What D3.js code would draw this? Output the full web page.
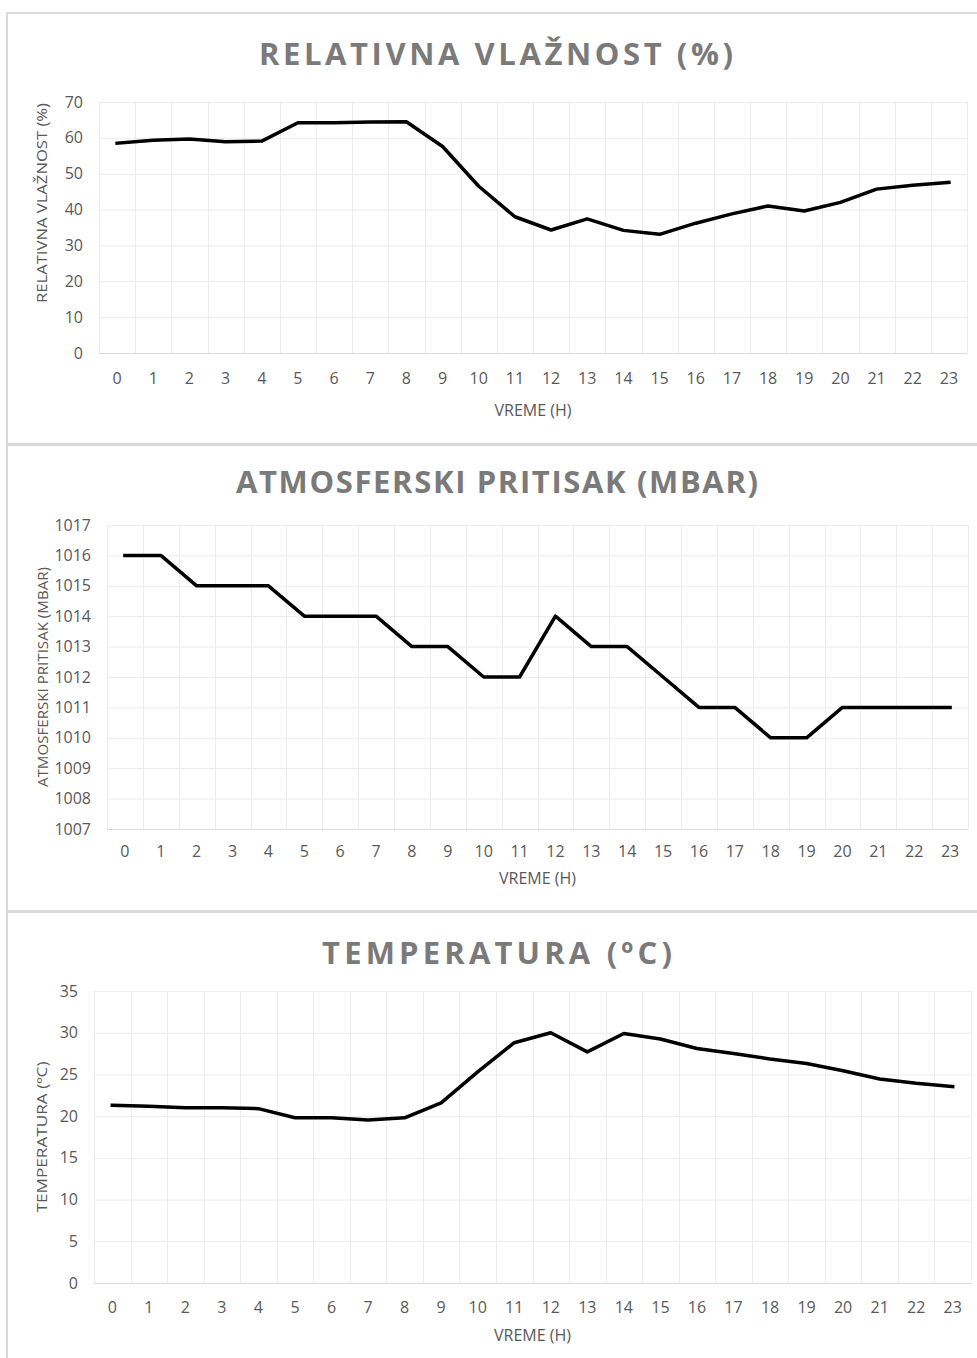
<!DOCTYPE html>
<html>
<head>
<meta charset="utf-8">
<script src="https://cdn.jsdelivr.net/npm/d3@7"></script>
<style>
  html, body { margin: 0; padding: 0; background: #fff; }
  svg { display: block; }
  text { font-family: "Open Sans", "Noto Sans", sans-serif; }
</style>
</head>
<body>
<svg id="chart" width="977" height="1358"></svg>
<script>
// Hours of the day (x categories, shared by all three panels)
const hours = d3.range(0, 24).map(String);

// Relative humidity (%)
const humidity = [58.5, 59.3, 59.7, 58.9, 59.1, 64.2, 64.2, 64.4, 64.5, 57.6, 46.5, 38.0,
                  34.3, 37.4, 34.2, 33.1, 36.2, 38.8, 41.0, 39.6, 42.0, 45.7, 46.8, 47.6];
const humidityTicks = [0, 10, 20, 30, 40, 50, 60, 70];

// Atmospheric pressure (mbar)
const pressure = [1016, 1016, 1015, 1015, 1015, 1014, 1014, 1014, 1013, 1013, 1012, 1012,
                  1014, 1013, 1013, 1012, 1011, 1011, 1010, 1010, 1011, 1011, 1011, 1011];
const pressureTicks = [1007, 1008, 1009, 1010, 1011, 1012, 1013, 1014, 1015, 1016, 1017];

// Temperature (ºC)
const temperature = [21.3, 21.2, 21.0, 21.0, 20.9, 19.8, 19.8, 19.55, 19.8, 21.6, 25.3, 28.8,
                     30.0, 27.7, 29.9, 29.25, 28.1, 27.5, 26.85, 26.3, 25.45, 24.45, 23.95, 23.55];
const temperatureTicks = [0, 5, 10, 15, 20, 25, 30, 35];

const xTitle = "VREME (H)";

const panels = [
  { title: "RELATIVNA VLAŽNOST (%)", yTitle: "RELATIVNA VLAŽNOST (%)",
    values: humidity, ticks: humidityTicks,
    box: [13, 444], plot: { left: 99, right: 967, top: 102, bottom: 353 },
    titleX: 496, titleY: 65, titleLen: 474, yTitleX: 42, yTitleY: 203, yTitleLen: 200,
    xTickY: 384, xTitleY: 416 },
  { title: "ATMOSFERSKI PRITISAK (MBAR)", yTitle: "ATMOSFERSKI PRITISAK (MBAR)",
    values: pressure, ticks: pressureTicks,
    box: [445, 911], plot: { left: 107, right: 968, top: 525, bottom: 829 },
    titleX: 497, titleY: 493, titleLen: 522, yTitleX: 43, yTitleY: 677, yTitleLen: 220,
    xTickY: 857, xTitleY: 884 },
  { title: "TEMPERATURA (ºC)", yTitle: "TEMPERATURA (ºC)",
    values: temperature, ticks: temperatureTicks,
    box: [912, 1400], plot: { left: 94, right: 971, top: 991, bottom: 1283 },
    titleX: 497, titleY: 964, titleLen: 350, yTitleX: 42, yTitleY: 1137, yTitleLen: 151,
    xTickY: 1313, xTitleY: 1341 }
];

const svg = d3.select("#chart");

panels.forEach(p => {
  const g = svg.append("g");

  // panel frame
  g.append("rect")
    .attr("x", 7).attr("y", p.box[0])
    .attr("width", 1000).attr("height", p.box[1] - p.box[0])
    .attr("fill", "#fff").attr("stroke", "#d9d9d9").attr("stroke-width", 2);

  const x = d3.scaleBand().domain(hours).range([p.plot.left, p.plot.right]).padding(0);
  const y = d3.scaleLinear().domain(d3.extent(p.ticks)).range([p.plot.bottom, p.plot.top]);

  // horizontal gridlines
  g.append("g").selectAll("line").data(p.ticks).join("line")
    .attr("x1", p.plot.left).attr("x2", p.plot.right)
    .attr("y1", d => y(d) + 0.5).attr("y2", d => y(d) + 0.5)
    .attr("stroke", d => d === p.ticks[0] ? "#d9d9d9" : "#ececec").attr("stroke-width", 1);

  // vertical gridlines at category boundaries
  const bounds = hours.map(h => x(h)).concat([x(hours[hours.length - 1]) + x.bandwidth()]);
  g.append("g").selectAll("line").data(bounds).join("line")
    .attr("x1", d => Math.round(d) + 0.5).attr("x2", d => Math.round(d) + 0.5)
    .attr("y1", p.plot.top).attr("y2", p.plot.bottom)
    .attr("stroke", "#ececec").attr("stroke-width", 1);

  // y axis tick labels
  const yAxis = d3.axisLeft(y).tickValues(p.ticks).tickSize(0).tickPadding(0).tickFormat(d3.format("d"));
  const ya = g.append("g").attr("transform", `translate(${p.plot.left - 16},0)`).call(yAxis);
  ya.select(".domain").remove();
  ya.selectAll("text").attr("fill", "#595959").style("font-size", "16px")
    .attr("font-family", "'Open Sans', sans-serif");

  // x axis tick labels
  const xAxis = d3.axisBottom(x).tickSize(0).tickPadding(0);
  const xa = g.append("g").attr("transform", `translate(0,${p.xTickY - 11})`).call(xAxis);
  xa.select(".domain").remove();
  xa.selectAll("text").attr("fill", "#595959").style("font-size", "16px")
    .attr("font-family", "'Open Sans', sans-serif");

  // line series
  const line = d3.line()
    .x((d, i) => x(hours[i]) + x.bandwidth() / 2)
    .y(d => y(d));
  g.append("path").datum(p.values)
    .attr("d", line)
    .attr("fill", "none").attr("stroke", "#000")
    .attr("stroke-width", 3.5).attr("stroke-linejoin", "round").attr("stroke-linecap", "square");

  // chart title
  g.append("text")
    .attr("x", p.titleX).attr("y", p.titleY)
    .attr("text-anchor", "middle")
    .attr("fill", "#7a7a7a")
    .attr("textLength", p.titleLen).attr("lengthAdjust", "spacing")
    .style("font-size", "31px").style("font-weight", "700")
    .text(p.title);

  // axis titles
  g.append("text")
    .attr("transform", `translate(${p.yTitleX},${p.yTitleY}) rotate(-90)`)
    .attr("text-anchor", "middle").attr("dy", "0.35em")
    .attr("fill", "#595959")
    .attr("textLength", p.yTitleLen).attr("lengthAdjust", "spacingAndGlyphs")
    .style("font-size", "14.5px")
    .text(p.yTitle);

  g.append("text")
    .attr("x", (p.plot.left + p.plot.right) / 2).attr("y", p.xTitleY)
    .attr("text-anchor", "middle")
    .attr("fill", "#595959").style("font-size", "16px")
    .text(xTitle);
});
</script>
</body>
</html>
